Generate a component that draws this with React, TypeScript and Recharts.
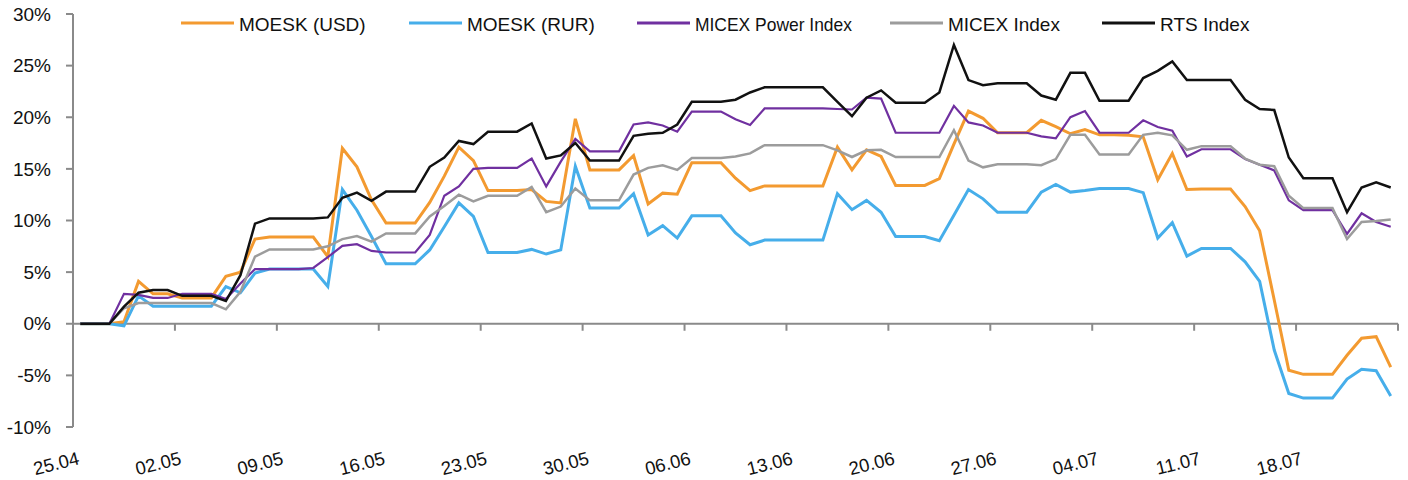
import * as React from "react"
import { LineChart, Line, XAxis, YAxis, ReferenceLine, Legend } from "recharts"

// daily % change since 25.04 (one row per week, Fri..Thu)
const moeskUsd = [
  0, 0, 0, 0.2, 4.1, 2.9, 2.9,
  2.5, 2.5, 2.5, 4.6, 5.0, 8.2, 8.4,
  8.4, 8.4, 8.4, 6.5, 17.0, 15.2, 12.0,
  9.75, 9.75, 9.75, 11.75, 14.3, 17.1, 15.8,
  12.9, 12.9, 12.9, 13.0, 11.85, 11.7, 19.85,
  14.9, 14.9, 14.9, 16.3, 11.6, 12.65, 12.55,
  15.6, 15.6, 15.6, 14.1, 12.9, 13.35, 13.35,
  13.35, 13.35, 13.35, 17.1, 14.9, 16.85, 16.2,
  13.4, 13.4, 13.4, 14.05, 17.4, 20.6, 19.9,
  18.5, 18.5, 18.5, 19.7, 19.1, 18.4, 18.8,
  18.3, 18.3, 18.25, 18.1, 13.95, 16.5, 13.0,
  13.05, 13.05, 13.05, 11.35, 9.0, 2.3, -4.5,
  -4.9, -4.9, -4.9, -3.05, -1.4, -1.25, -4.2,
]

const moeskRur = [
  0, 0, 0, -0.2, 2.7, 1.7, 1.7,
  1.7, 1.7, 1.7, 3.6, 3.0, 4.9, 5.3,
  5.3, 5.3, 5.3, 3.6, 13.0, 11.0, 8.45,
  5.8, 5.8, 5.8, 7.15, 9.4, 11.7, 10.4,
  6.9, 6.9, 6.9, 7.2, 6.75, 7.15, 15.25,
  11.2, 11.2, 11.2, 12.6, 8.6, 9.5, 8.3,
  10.45, 10.45, 10.45, 8.8, 7.65, 8.1, 8.1,
  8.1, 8.1, 8.1, 12.6, 11.05, 11.95, 10.8,
  8.45, 8.45, 8.45, 8.05, 10.5, 13.0, 12.1,
  10.8, 10.8, 10.8, 12.75, 13.5, 12.75, 12.9,
  13.1, 13.1, 13.1, 12.7, 8.3, 9.8, 6.55,
  7.3, 7.3, 7.3, 6.0, 4.1, -2.55, -6.75,
  -7.2, -7.2, -7.2, -5.35, -4.4, -4.55, -7.0,
]

const micexPower = [
  0, 0, 0, 2.9, 2.8, 2.5, 2.5,
  2.9, 2.9, 2.9, 2.4, 3.9, 5.3, 5.3,
  5.3, 5.3, 5.4, 6.45, 7.55, 7.7, 7.05,
  6.9, 6.9, 6.9, 8.6, 12.4, 13.3, 15.0,
  15.1, 15.1, 15.1, 16.0, 13.3, 15.7, 17.9,
  16.7, 16.7, 16.7, 19.3, 19.5, 19.2, 18.6,
  20.55, 20.55, 20.55, 19.8, 19.25, 20.85, 20.85,
  20.85, 20.85, 20.85, 20.8, 20.75, 21.9, 21.8,
  18.5, 18.5, 18.5, 18.5, 21.1, 19.5, 19.2,
  18.5, 18.5, 18.5, 18.15, 17.95, 20.0, 20.6,
  18.5, 18.5, 18.5, 19.7, 19.05, 18.7, 16.2,
  16.9, 16.9, 16.9, 15.95, 15.4, 14.85, 11.95,
  11.0, 11.0, 11.0, 8.7, 10.7, 9.85, 9.4,
]

const micex = [
  0, 0, 0, 1.5, 2.0, 2.0, 2.0,
  2.0, 2.0, 2.0, 1.4, 3.1, 6.5, 7.2,
  7.2, 7.2, 7.2, 7.5, 8.2, 8.5, 7.95,
  8.75, 8.75, 8.75, 10.4, 11.4, 12.5, 11.85,
  12.4, 12.4, 12.4, 13.25, 10.8, 11.35, 13.1,
  11.95, 11.95, 11.95, 14.45, 15.1, 15.35, 14.9,
  16.05, 16.05, 16.05, 16.2, 16.5, 17.3, 17.3,
  17.3, 17.3, 17.3, 16.8, 16.15, 16.8, 16.85,
  16.15, 16.15, 16.15, 16.15, 18.75, 15.8, 15.15,
  15.45, 15.45, 15.45, 15.35, 15.95, 18.3, 18.3,
  16.4, 16.4, 16.4, 18.3, 18.5, 18.25, 16.85,
  17.2, 17.2, 17.2, 16.0, 15.4, 15.25, 12.4,
  11.2, 11.2, 11.2, 8.2, 9.85, 9.95, 10.1,
]

const rts = [
  0, 0, 0, 1.65, 3.0, 3.27, 3.27,
  2.7, 2.7, 2.7, 2.2, 4.7, 9.7, 10.2,
  10.2, 10.2, 10.2, 10.3, 12.2, 12.7, 11.9,
  12.8, 12.8, 12.8, 15.2, 16.1, 17.7, 17.4,
  18.6, 18.6, 18.6, 19.4, 16.0, 16.3, 17.5,
  15.8, 15.8, 15.8, 18.2, 18.4, 18.5, 19.3,
  21.5, 21.5, 21.5, 21.7, 22.4, 22.9, 22.9,
  22.9, 22.9, 22.9, 21.5, 20.1, 21.9, 22.6,
  21.4, 21.4, 21.4, 22.4, 27.0, 23.6, 23.1,
  23.3, 23.3, 23.3, 22.1, 21.7, 24.3, 24.3,
  21.6, 21.6, 21.6, 23.8, 24.5, 25.4, 23.6,
  23.6, 23.6, 23.6, 21.7, 20.8, 20.7, 16.1,
  14.1, 14.1, 14.1, 10.8, 13.2, 13.7, 13.2,
]

const tickLabels = ["25.04", "02.05", "09.05", "16.05", "23.05", "30.05", "06.06", "13.06", "20.06", "27.06", "04.07", "11.07", "18.07"]
const yTicks = [-10, -5, 0, 5, 10, 15, 20, 25, 30]

const series = [
  { key: "usd", name: "MOESK (USD)", color: "#f39a30", width: 3, legendX: 181 },
  { key: "rur", name: "MOESK (RUR)", color: "#46aeea", width: 3, legendX: 409 },
  { key: "power", name: "MICEX Power Index", color: "#7030a0", width: 2.2, legendX: 637, squeeze: 157 },
  { key: "micex", name: "MICEX Index", color: "#9c9c9c", width: 2.5, legendX: 890 },
  { key: "rts", name: "RTS Index", color: "#111111", width: 2.5, legendX: 1102 },
]

const data = rts.map((_, i) => ({
  day: i,
  usd: moeskUsd[i],
  rur: moeskRur[i],
  power: micexPower[i],
  micex: micex[i],
  rts: rts[i],
}))

const W = 1408
const H = 480
const TOP = 14
const RIGHT = 10
const Y_AXIS_W = 73
const X_AXIS_H = 53
const PLOT_H = H - TOP - X_AXIS_H
const PLOT_W = W - RIGHT - Y_AXIS_W
const SLOT = PLOT_W / rts.length
const ZERO_Y = TOP + (PLOT_H * 30) / 40
const AXIS_COLOR = "#8a8a8a"
const FONT = "'Liberation Sans', Arial, sans-serif"

const xTicks = [...tickLabels.map((_, k) => k * 7 - 0.5), rts.length - 0.5]

const XTick = (props: any) => {
  const { x, payload } = props
  const k = Math.round((payload.value + 0.5) / 7)
  const label = tickLabels[k]
  const ax = x + SLOT / 2
  const ay = 464
  return (
    <g>
      <line x1={x} x2={x} y1={ZERO_Y} y2={ZERO_Y + 7} stroke={AXIS_COLOR} strokeWidth={2} />
      {label && (
        <text x={ax} y={ay} textAnchor="end" fontSize={18.5} fill="#111" fontFamily={FONT}
          transform={`rotate(-14 ${ax} ${ay})`}>
          {label}
        </text>
      )}
    </g>
  )
}

const LegendBox = () => (
  <svg width={W} height={40} style={{ display: "block" }}>
    {series.map((s) => (
      <g key={s.key}>
        <line x1={s.legendX} x2={s.legendX + 53} y1={23} y2={23} stroke={s.color} strokeWidth={3} />
        <text x={s.legendX + 58} y={30.5} fontSize={19} fill="#111" fontFamily={FONT}
          {...(s.squeeze ? { textLength: s.squeeze, lengthAdjust: "spacingAndGlyphs" } : {})}>
          {s.name}
        </text>
      </g>
    ))}
  </svg>
)

export default function App() {
  return (
    <div style={{ position: "absolute", left: 0, top: 0, width: W, height: H, background: "#fff", fontFamily: FONT }}>
      <LineChart width={W} height={H} data={data} margin={{ top: TOP, right: RIGHT, left: 0, bottom: 0 }}>
        <XAxis
          dataKey="day"
          type="number"
          domain={[-0.5, rts.length - 0.5]}
          ticks={xTicks}
          interval={0}
          axisLine={false}
          tickLine={false}
          height={X_AXIS_H}
          tick={(p: any) => <XTick {...p} />}
        />
        <YAxis
          type="number"
          domain={[-10, 30]}
          ticks={yTicks}
          interval={0}
          width={Y_AXIS_W}
          tickFormatter={(v: number) => `${v}%`}
          tick={{ fill: "#111", fontSize: 19, fontFamily: FONT }}
          axisLine={{ stroke: AXIS_COLOR, strokeWidth: 2 }}
          tickLine={{ stroke: AXIS_COLOR, strokeWidth: 2 }}
          tickSize={7}
          tickMargin={15}
        />
        <ReferenceLine y={0} stroke={AXIS_COLOR} strokeWidth={2} />
        <Legend
          layout="horizontal"
          verticalAlign="middle"
          align="center"
          wrapperStyle={{ top: 0, left: 0, width: W, height: 40 }}
          content={() => <LegendBox />}
        />
        {series.map((s) => (
          <Line
            key={s.key}
            type="linear"
            dataKey={s.key}
            name={s.name}
            stroke={s.color}
            strokeWidth={s.width}
            dot={false}
            activeDot={false}
            isAnimationActive={false}
          />
        ))}
      </LineChart>
    </div>
  )
}
